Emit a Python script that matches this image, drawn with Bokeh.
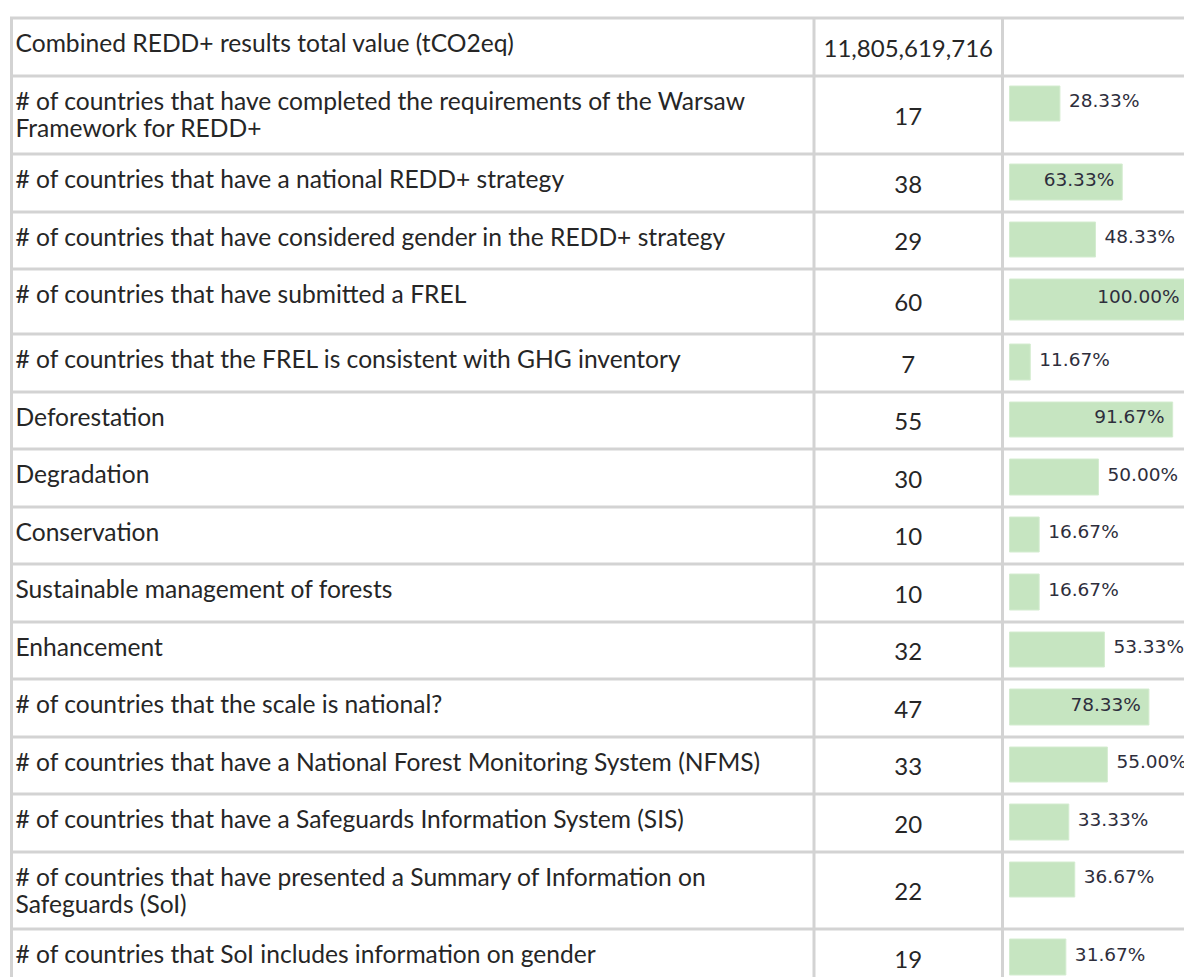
from bokeh.plotting import figure
from bokeh.models import Range1d
from bokeh.core.properties import value
from bokeh.embed import file_html
from bokeh.resources import INLINE

# ---------------- data ----------------
labels = [
    "Combined REDD+ results total value (tCO2eq)",
    "# of countries that have completed the requirements of the Warsaw\nFramework for REDD+",
    "# of countries that have a national REDD+ strategy",
    "# of countries that have considered gender in the REDD+ strategy",
    "# of countries that have submitted a FREL",
    "# of countries that the FREL is consistent with GHG inventory",
    "Deforestation",
    "Degradation",
    "Conservation",
    "Sustainable management of forests",
    "Enhancement",
    "# of countries that the scale is national?",
    "# of countries that have a National Forest Monitoring System (NFMS)",
    "# of countries that have a Safeguards Information System (SIS)",
    "# of countries that have presented a Summary of Information on\nSafeguards (SoI)",
    "# of countries that SoI includes information on gender",
]
counts = [11805619716, 17, 38, 29, 60, 7, 55, 30, 10, 10, 32, 47, 33, 20, 22, 19]
percents = [None, 28.33, 63.33, 48.33, 100.00, 11.67, 91.67, 50.00, 16.67,
            16.67, 53.33, 78.33, 55.00, 33.33, 36.67, 31.67]

# ---------------- layout (pixels) ----------------
W, H = 1184, 977
row_heights = [58, 78, 58, 57, 65, 58, 57, 58, 57, 58, 57, 58, 57, 58, 77, 58]
table_top = 17.5
x_left, x_mid, x_right_col = 11, 813.5, 1002
bar_x0, bar_full = 1009, 178
grid_col = "#d3d3d3"
txt_col = "#262626"
bar_col = "#c6e5c1"
lbl_col = "#2e2e3c"
dy = -9  # text baseline correction

p = figure(width=W, height=H, x_range=Range1d(0, W), y_range=Range1d(H, 0),
           x_axis_type=None, y_axis_type=None, toolbar_location=None,
           output_backend="svg", min_border=0, outline_line_color=None)
p.background_fill_color = "white"
p.border_fill_color = "white"

tops = []
t = table_top
for h in row_heights:
    tops.append(t)
    t += h
table_bottom = t

# grid lines
hx0, hx1, hy = [], [], []
for y in tops + [table_bottom]:
    hx0.append(x_left - 1.5); hx1.append(1200); hy.append(y)
p.segment(x0=hx0, y0=hy, x1=hx1, y1=hy, line_color=grid_col, line_width=3)
vx = [x_left, x_mid, x_right_col]
p.segment(x0=vx, y0=[table_top] * 3, x1=vx, y1=[table_bottom] * 3,
          line_color=grid_col, line_width=3)

# left labels
lx, ly, lt = [], [], []
for top, lab in zip(tops, labels):
    for j, line in enumerate(lab.split("\n")):
        lx.append(15); ly.append(top + 33 + 27 * j + dy); lt.append(line)
p.text(x=lx, y=ly, text=lt, text_font=value("Lato"), text_font_size="24.6px",
       text_color=txt_col, text_baseline="alphabetic", text_align="left")

# counts
nx, ny, nt = [], [], []
for top, h, c in zip(tops, row_heights, counts):
    nx.append((x_mid + x_right_col) / 2); ny.append(top + h / 2 + 10 + dy); nt.append(f"{c:,}")
p.text(x=nx, y=ny, text=nt, text_font=value("Lato"), text_font_size="24px",
       text_color=txt_col, text_baseline="alphabetic", text_align="center")

# data bars
bl, br, bt, bb = [], [], [], []
ix, iy, it = [], [], []
ox, oy, ot = [], [], []
for top, h, lab, pc in zip(tops, row_heights, labels, percents):
    if pc is None:
        continue
    nlines = lab.count("\n") + 1
    bh = min(h - 22, 41) if nlines == 1 else 35
    right = bar_x0 + pc / 100 * bar_full
    bl.append(bar_x0); br.append(right); bt.append(top + 10); bb.append(top + 10 + bh)
    ylab = top + 10 + bh / 2 + 6 + dy
    txt = f"{pc:.2f}%"
    if pc >= 60:
        ix.append(right - 8); iy.append(ylab); it.append(txt)
    else:
        ox.append(right + 9); oy.append(ylab); ot.append(txt)
p.quad(left=bl, right=br, top=bt, bottom=bb, fill_color=bar_col, line_color="#d4ecd0",
       line_width=1)
p.text(x=ix, y=iy, text=it, text_font=value("DejaVu Sans"), text_font_size="18.5px",
       text_color=lbl_col, text_baseline="alphabetic", text_align="right")
p.text(x=ox, y=oy, text=ot, text_font=value("DejaVu Sans"), text_font_size="18.5px",
       text_color=lbl_col, text_baseline="alphabetic", text_align="left")

open("out.html", "w").write(file_html(p, INLINE))
